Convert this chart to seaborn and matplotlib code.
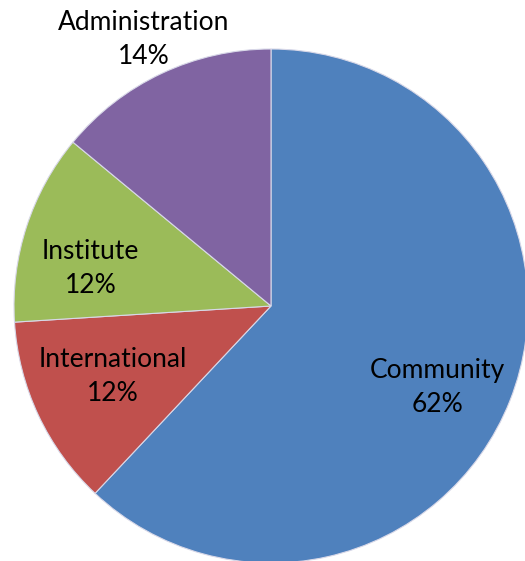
import numpy as np
import matplotlib
matplotlib.use("Agg")
import matplotlib.pyplot as plt
import seaborn as sns

categories = ["Community", "International", "Institute", "Administration"]
values = [62, 12, 12, 14]
colors = ["#4F81BD", "#C0504D", "#9BBB59", "#8064A2"]

sns.set_style("white")
plt.rcParams['font.family'] = ['Lato', 'DejaVu Sans']

W, H = 525, 561
fig = plt.figure(figsize=(W / 100, H / 100), dpi=100)
ax = fig.add_axes([0, 0, 1, 1])

cx, cy, r = 271, H - 306, 257
wedges, _ = ax.pie(values, colors=colors, startangle=90, counterclock=False,
                   center=(cx, cy), radius=r,
                   wedgeprops=dict(edgecolor="#d8d8e8", linewidth=0.8))
ax.set_xlim(0, W)
ax.set_ylim(0, H)
ax.set_aspect('equal')
ax.axis('off')

dists = [0.716, 0.668, 0.72, 1.165]
tweak = [-3.4, -2.4, 5.0, 0.0]
for w, cat, v, d, t in zip(wedges, categories, values, dists, tweak):
    ang = np.deg2rad((w.theta1 + w.theta2) / 2 + t)
    x = cx + d * r * np.cos(ang)
    y = cy + d * r * np.sin(ang) - 4
    ax.text(x, y, f"{cat}\n{v}%", ha="center", va="center", fontsize=19,
            color="black", linespacing=1.45)

fig.savefig("out.png", dpi=100)
